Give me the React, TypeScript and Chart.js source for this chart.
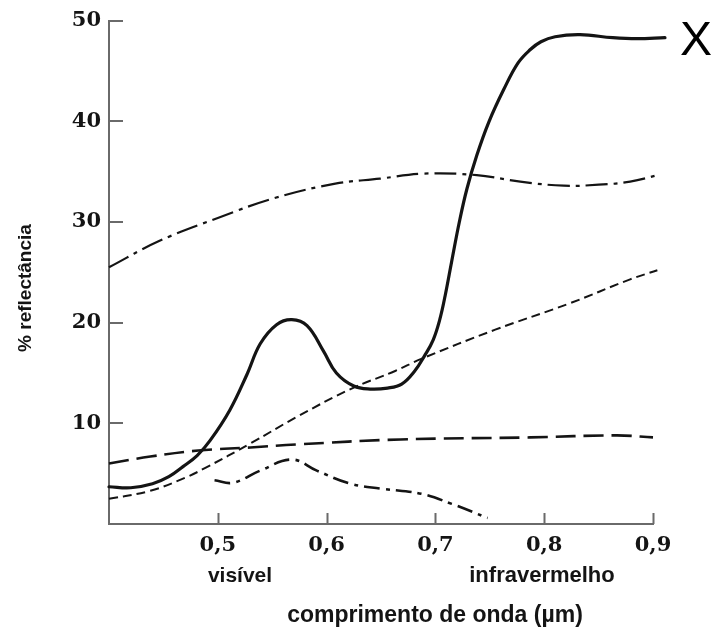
import React, { useEffect, useRef } from "react";
import { Chart, registerables } from "chart.js";

Chart.register(...registerables);

// Curve X (solid)
const solidX = [0.4, 0.42, 0.44, 0.455, 0.468, 0.481, 0.493, 0.511, 0.527, 0.539, 0.554, 0.568, 0.582, 0.597, 0.609, 0.625, 0.64, 0.656, 0.669, 0.681, 0.69, 0.698, 0.704, 0.709, 0.715, 0.722, 0.729, 0.738, 0.749, 0.763, 0.776, 0.787, 0.797, 0.81, 0.833, 0.863, 0.885, 0.911];
const solidY = [3.7, 3.6, 4.0, 4.7, 5.7, 6.8, 8.3, 11.3, 14.9, 17.9, 19.8, 20.3, 19.7, 17.2, 15.0, 13.7, 13.4, 13.5, 13.9, 15.2, 16.7, 18.3, 20.3, 22.7, 26.1, 30.0, 33.3, 36.6, 39.9, 43.2, 45.8, 47.1, 47.9, 48.4, 48.6, 48.3, 48.2, 48.3];

// upper dash-dot curve
const dashDotX = [0.4, 0.446, 0.5, 0.553, 0.608, 0.649, 0.689, 0.738, 0.778, 0.818, 0.85, 0.879, 0.906];
const dashDotY = [25.5, 28.1, 30.4, 32.4, 33.8, 34.3, 34.8, 34.65, 34.0, 33.6, 33.7, 34.0, 34.7];

// short dashed curve
const shortDashX = [0.4, 0.438, 0.47, 0.489, 0.53, 0.572, 0.622, 0.663, 0.687, 0.755, 0.823, 0.879, 0.904];
const shortDashY = [2.5, 3.3, 4.6, 5.6, 8.0, 10.6, 13.4, 15.2, 16.4, 19.3, 21.9, 24.3, 25.2];

// long dashed curve
const longDashX = [0.4, 0.438, 0.482, 0.53, 0.572, 0.668, 0.787, 0.867, 0.9];
const longDashY = [6.0, 6.7, 7.3, 7.6, 7.9, 8.4, 8.6, 8.8, 8.6];

// lower dash-dot curve
const lowDashDotX = [0.497, 0.514, 0.539, 0.568, 0.591, 0.622, 0.651, 0.687, 0.715, 0.748];
const lowDashDotY = [4.35, 4.1, 5.3, 6.4, 5.3, 4.0, 3.5, 3.0, 2.0, 0.6];

const xTicks = [0.5, 0.6, 0.7, 0.8, 0.9];
const yTicks = [10, 20, 30, 40, 50];

const yTitle = "% reflectância";
const xTitle = "comprimento de onda (µm)";
const regionLabels = ["visível", "infravermelho"];
const curveLabel = "X";

const zip = (xs: number[], ys: number[]) => xs.map((x, i) => ({ x, y: ys[i] }));

const AXIS_COLOR = "#6a6a6a";
const INK = "#141414";

const decorPlugin = {
  id: "decor",
  afterDraw(chart: any) {
    const { ctx, chartArea, scales } = chart;
    const xs = scales.x;
    const ys = scales.y;
    ctx.save();
    // inward ticks
    ctx.strokeStyle = AXIS_COLOR;
    ctx.lineWidth = 2;
    ctx.beginPath();
    xTicks.forEach((v) => {
      const px = Math.round(xs.getPixelForValue(v)) + 0.5;
      ctx.moveTo(px, chartArea.bottom);
      ctx.lineTo(px, chartArea.bottom - 11);
    });
    yTicks.forEach((v) => {
      const py = Math.round(ys.getPixelForValue(v));
      ctx.moveTo(chartArea.left, py);
      ctx.lineTo(chartArea.left + 14, py);
    });
    ctx.stroke();

    // texts
    ctx.fillStyle = INK;
    ctx.textAlign = "center";
    ctx.textBaseline = "middle";
    ctx.font = "bold 21px 'Liberation Sans', Arial, sans-serif";
    ctx.fillText(regionLabels[0], 240, 576);
    ctx.font = "bold 22px 'Liberation Sans', Arial, sans-serif";
    ctx.fillText(regionLabels[1], 542, 576);
    ctx.font = "bold 23px 'Liberation Sans', Arial, sans-serif";
    ctx.fillText(xTitle, 435, 616);

    ctx.save();
    ctx.translate(26, 288);
    ctx.rotate(-Math.PI / 2);
    ctx.font = "bold 19px 'Liberation Sans', Arial, sans-serif";
    ctx.fillText(yTitle, 0, 0);
    ctx.restore();

    ctx.fillStyle = "#000";
    ctx.font = "48px 'Liberation Sans', Arial, sans-serif";
    ctx.textBaseline = "alphabetic";
    ctx.fillText(curveLabel, 696, 55);
    ctx.restore();
  },
};

export default function App() {
  const ref = useRef<HTMLCanvasElement | null>(null);

  useEffect(() => {
    if (!ref.current) return;
    const common = {
      showLine: true,
      pointRadius: 0,
      pointHoverRadius: 0,
      borderColor: INK,
      backgroundColor: INK,
      fill: false,
      tension: 0.4,
      clip: false as any,
      borderCapStyle: "butt" as const,
    };
    const chart = new Chart(ref.current, {
      type: "scatter",
      data: {
        datasets: [
          { ...common, label: "X", data: zip(solidX, solidY), borderWidth: 3.2, borderCapStyle: "round" },
          { ...common, label: "dash-dot", data: zip(dashDotX, dashDotY), borderWidth: 2.2, borderDash: [22, 6, 4, 6] },
          { ...common, label: "short dash", data: zip(shortDashX, shortDashY), borderWidth: 2, borderDash: [9, 5] },
          { ...common, label: "long dash", data: zip(longDashX, longDashY), borderWidth: 2.6, borderDash: [20, 8] },
          { ...common, label: "low dash-dot", data: zip(lowDashDotX, lowDashDotY), borderWidth: 2.6, borderDash: [16, 6, 4, 6] },
        ] as any,
      },
      options: {
        animation: false,
        responsive: true,
        maintainAspectRatio: false,
        events: [],
        layout: { padding: { top: 18, right: 61, left: 0, bottom: 0 } },
        plugins: { legend: { display: false }, tooltip: { enabled: false }, title: { display: false } },
        scales: {
          x: {
            type: "linear",
            min: 0.4,
            max: 0.9,
            grid: { display: false, drawTicks: false },
            border: { display: true, color: AXIS_COLOR, width: 2 },
            ticks: {
              stepSize: 0.1,
              padding: 9,
              color: INK,
              font: { family: "'DejaVu Serif', serif", weight: "bold", size: 21 },
              callback: (v: any) => {
                const n = Math.round(Number(v) * 10) / 10;
                return xTicks.includes(n) ? n.toFixed(1).replace(".", ",") : "";
              },
            },
            afterFit: (s: any) => {
              s.height = 104;
            },
          },
          y: {
            min: 0,
            max: 50,
            grid: { display: false, drawTicks: false },
            border: { display: true, color: AXIS_COLOR, width: 2 },
            ticks: {
              stepSize: 10,
              padding: 8,
              color: INK,
              font: { family: "'DejaVu Serif', serif", weight: "bold", size: 21 },
              callback: (v: any) => (yTicks.includes(Number(v)) ? String(v) : ""),
            },
            afterFit: (s: any) => {
              s.width = 109;
            },
          },
        },
      } as any,
      plugins: [decorPlugin],
    });
    return () => chart.destroy();
  }, []);

  return (
    <div style={{ position: "fixed", left: 0, top: 0, width: 714, height: 628, background: "#fff" }}>
      <canvas ref={ref} />
    </div>
  );
}
